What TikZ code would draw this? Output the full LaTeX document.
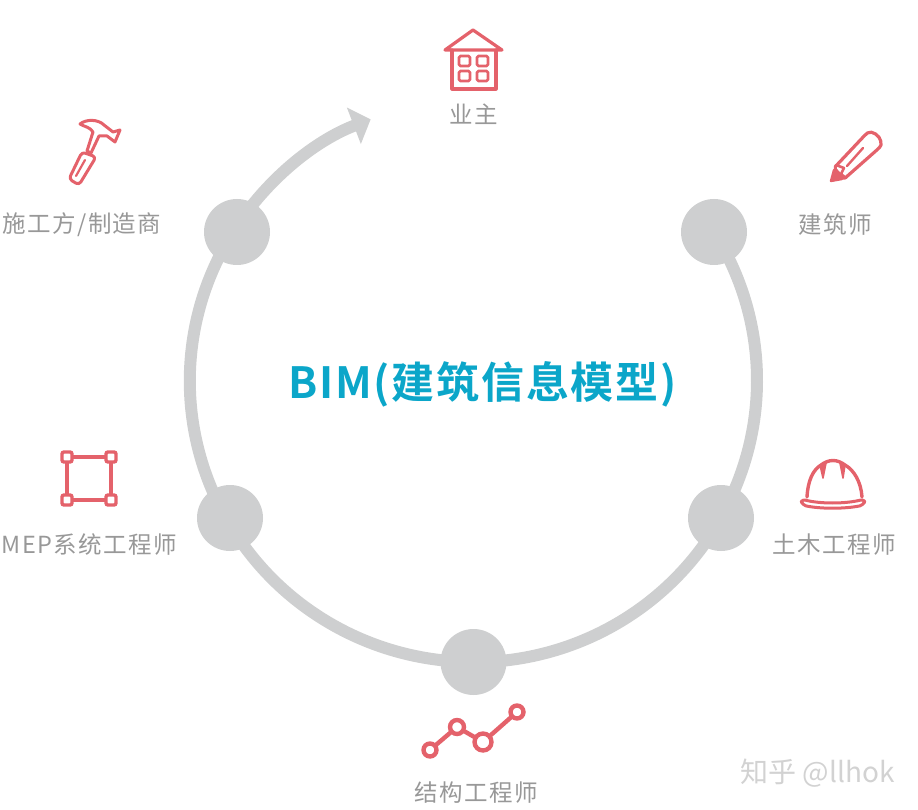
\documentclass[tikz,border=0pt]{standalone}
\usepackage{xcolor}
\usepackage{fontspec}
\usepackage{tikz}
\usetikzlibrary{arrows.meta, positioning, backgrounds}
\newfontfamily\labelfont[LetterSpace=6]{Noto Sans CJK SC}
\newfontfamily\titlefont[LetterSpace=4]{Noto Sans CJK SC Bold}
\newfontfamily\markfont{Noto Sans CJK SC}
\definecolor{ringgrey}{HTML}{CECFD0}
\definecolor{iconred}{HTML}{E4626B}
\definecolor{labelgrey}{HTML}{989898}
\definecolor{titleteal}{HTML}{0BA6C9}
\definecolor{markgrey}{HTML}{D2D2D2}

\begin{document}
\begin{tikzpicture}[
    x=1pt,y=-1pt,
    ringline/.style={draw=ringgrey,line width=12pt,x radius=283,y radius=280},
    hub/.style={circle,fill=ringgrey,minimum size=66pt,inner sep=0pt},
    role/.style={font=\fontsize{23.5}{26}\labelfont,text=labelgrey,inner sep=0pt},
    icon/.style={draw=iconred,line width=3.2pt,line join=round,line cap=round},
    corner/.style={draw=iconred,line width=3.4pt,fill=white,rounded corners=2pt,minimum size=10pt,inner sep=0pt},
    dot/.style={circle,draw=iconred,line width=4.4pt,fill=white,inner sep=0pt}
  ]
    \useasboundingbox (0,0) rectangle (918,810);

    \node[hub] (arch) at (714,232) {};
    \node[hub] (civil) at (721,518) {};
    \node[hub] (struct) at (473.5,662) {};
    \node[hub] (mep) at (230,518) {};
    \node[hub] (constr) at (237,232) {};

    \begin{scope}[on background layer]
      \draw[ringline] (arch.center) arc[start angle=-32,end angle=29];
      \draw[ringline] (civil.center) arc[start angle=29,end angle=90];
      \draw[ringline] (struct.center) arc[start angle=90,end angle=150];
      \draw[ringline] ([xshift=-4pt]mep.center) arc[start angle=150.7,end angle=212];
      \draw[ringline,-{Triangle[width=38pt,length=18pt]}] ([xshift=-4pt]constr.center) arc[start angle=212,end angle=248.8];
    \end{scope}

    \node[font=\fontsize{43}{48}\titlefont,text=titleteal,inner sep=0pt] (title) at (482.5,384) {BIM(建筑信息模型)};

    \node[role] (owner) at (474,114) {业主};
    \node[role] (architect) at (835,225) {建筑师};
    \node[role] (engineer) at (834.5,545) {土木工程师};
    \node[role] (structural) at (476,793) {结构工程师};
    \node[role] (services) at (89.5,545) {MEP系统工程师};
    \node[role] (builder) at (82,225) {施工方/制造商};
    \node[font=\fontsize{28}{32}\markfont,text=markgrey,inner sep=0pt] (mark) at (817.5,773) {知乎 @llhok};

    % house
    \draw[icon] (445,50) -- (473,30) -- (502,50) -- cycle;
    \draw[icon] (452,50) -- (452,89) -- (496,89) -- (496,50);
    \draw[icon,line width=2.8pt,rounded corners=1.5pt] (459,56) rectangle (470,66);
    \draw[icon,line width=2.8pt,rounded corners=1.5pt] (477,56) rectangle (488,66);
    \draw[icon,line width=2.8pt,rounded corners=1.5pt] (459,71) rectangle (470,81);
    \draw[icon,line width=2.8pt,rounded corners=1.5pt] (477,71) rectangle (488,81);

    % hammer
    \draw[icon,line width=3pt] (80,124) .. controls (86,119) and (98,119) .. (104,125) -- (113,132) -- (120,130)
      -- (115,142) -- (107,136) -- (99,136) -- (91,153) -- (87,151) -- (93,132) .. controls (90,127) and (85,127) .. (80,124) -- cycle;
    \draw[icon,line width=3pt,rounded corners=3.5pt] (82,152) -- (96,157) -- (79,185) -- (69,179) -- cycle;
    \draw[icon,line width=2.2pt] (85,160) -- (76,176);

    % pencil
    \draw[icon,line width=3.2pt,rounded corners=2pt] (834,168) -- (866,134) .. controls (872,130) and (880,136) .. (881,143) .. controls (881,146) and (880,147) .. (878,149) -- (844,179) -- cycle;
    \draw[icon,fill=iconred,line width=2.4pt] (831,181) -- (834,170) -- (842,179) -- cycle;
    \draw[icon,line width=2.6pt] (836,165) -- (844,168) -- (841,174) -- (846,178);
    \draw[icon,line width=2.4pt] (847,166) -- (863,148);

    % helmet
    \draw[icon,line width=3.4pt] (807,497) .. controls (808,480) and (813,470) .. (821,465) .. controls (829,459) and (837,459) .. (845,465) .. controls (854,470) and (861,482) .. (862,497);
    \draw[icon,fill=iconred,line width=1.6pt] (820,465) -- (826,463) -- (823,478) -- cycle;
    \draw[icon,fill=iconred,line width=1.6pt] (845,465) -- (840,463) -- (843,478) -- cycle;
    \draw[icon,rounded corners=4pt,line width=3pt] (801,499) .. controls (820,504) and (845,504) .. (865,499) -- (864,505) .. controls (845,509) and (820,509) .. (802,505) -- cycle;

    % chart
    \node[dot,minimum size=13pt] (p1) at (430,750) {};
    \node[dot,minimum size=14pt] (p2) at (457,727) {};
    \node[dot,minimum size=17pt] (p3) at (483,742) {};
    \node[dot,minimum size=13pt] (p4) at (517,712) {};
    \draw[icon,line width=4.4pt] (p1) -- (p2);
    \draw[icon,line width=4.4pt] (p2) -- (p3);
    \draw[icon,line width=4.4pt] (p3) -- (p4);

    % frame
    \node[corner] (c1) at (67,457) {};
    \node[corner] (c2) at (111,457) {};
    \node[corner] (c3) at (67,500) {};
    \node[corner] (c4) at (111,500) {};
    \draw[icon,line width=3.8pt] (c1) -- (c2);
    \draw[icon,line width=3.8pt] (c2) -- (c4);
    \draw[icon,line width=3.8pt] (c4) -- (c3);
    \draw[icon,line width=3.8pt] (c3) -- (c1);
  \end{tikzpicture}
\end{document}
